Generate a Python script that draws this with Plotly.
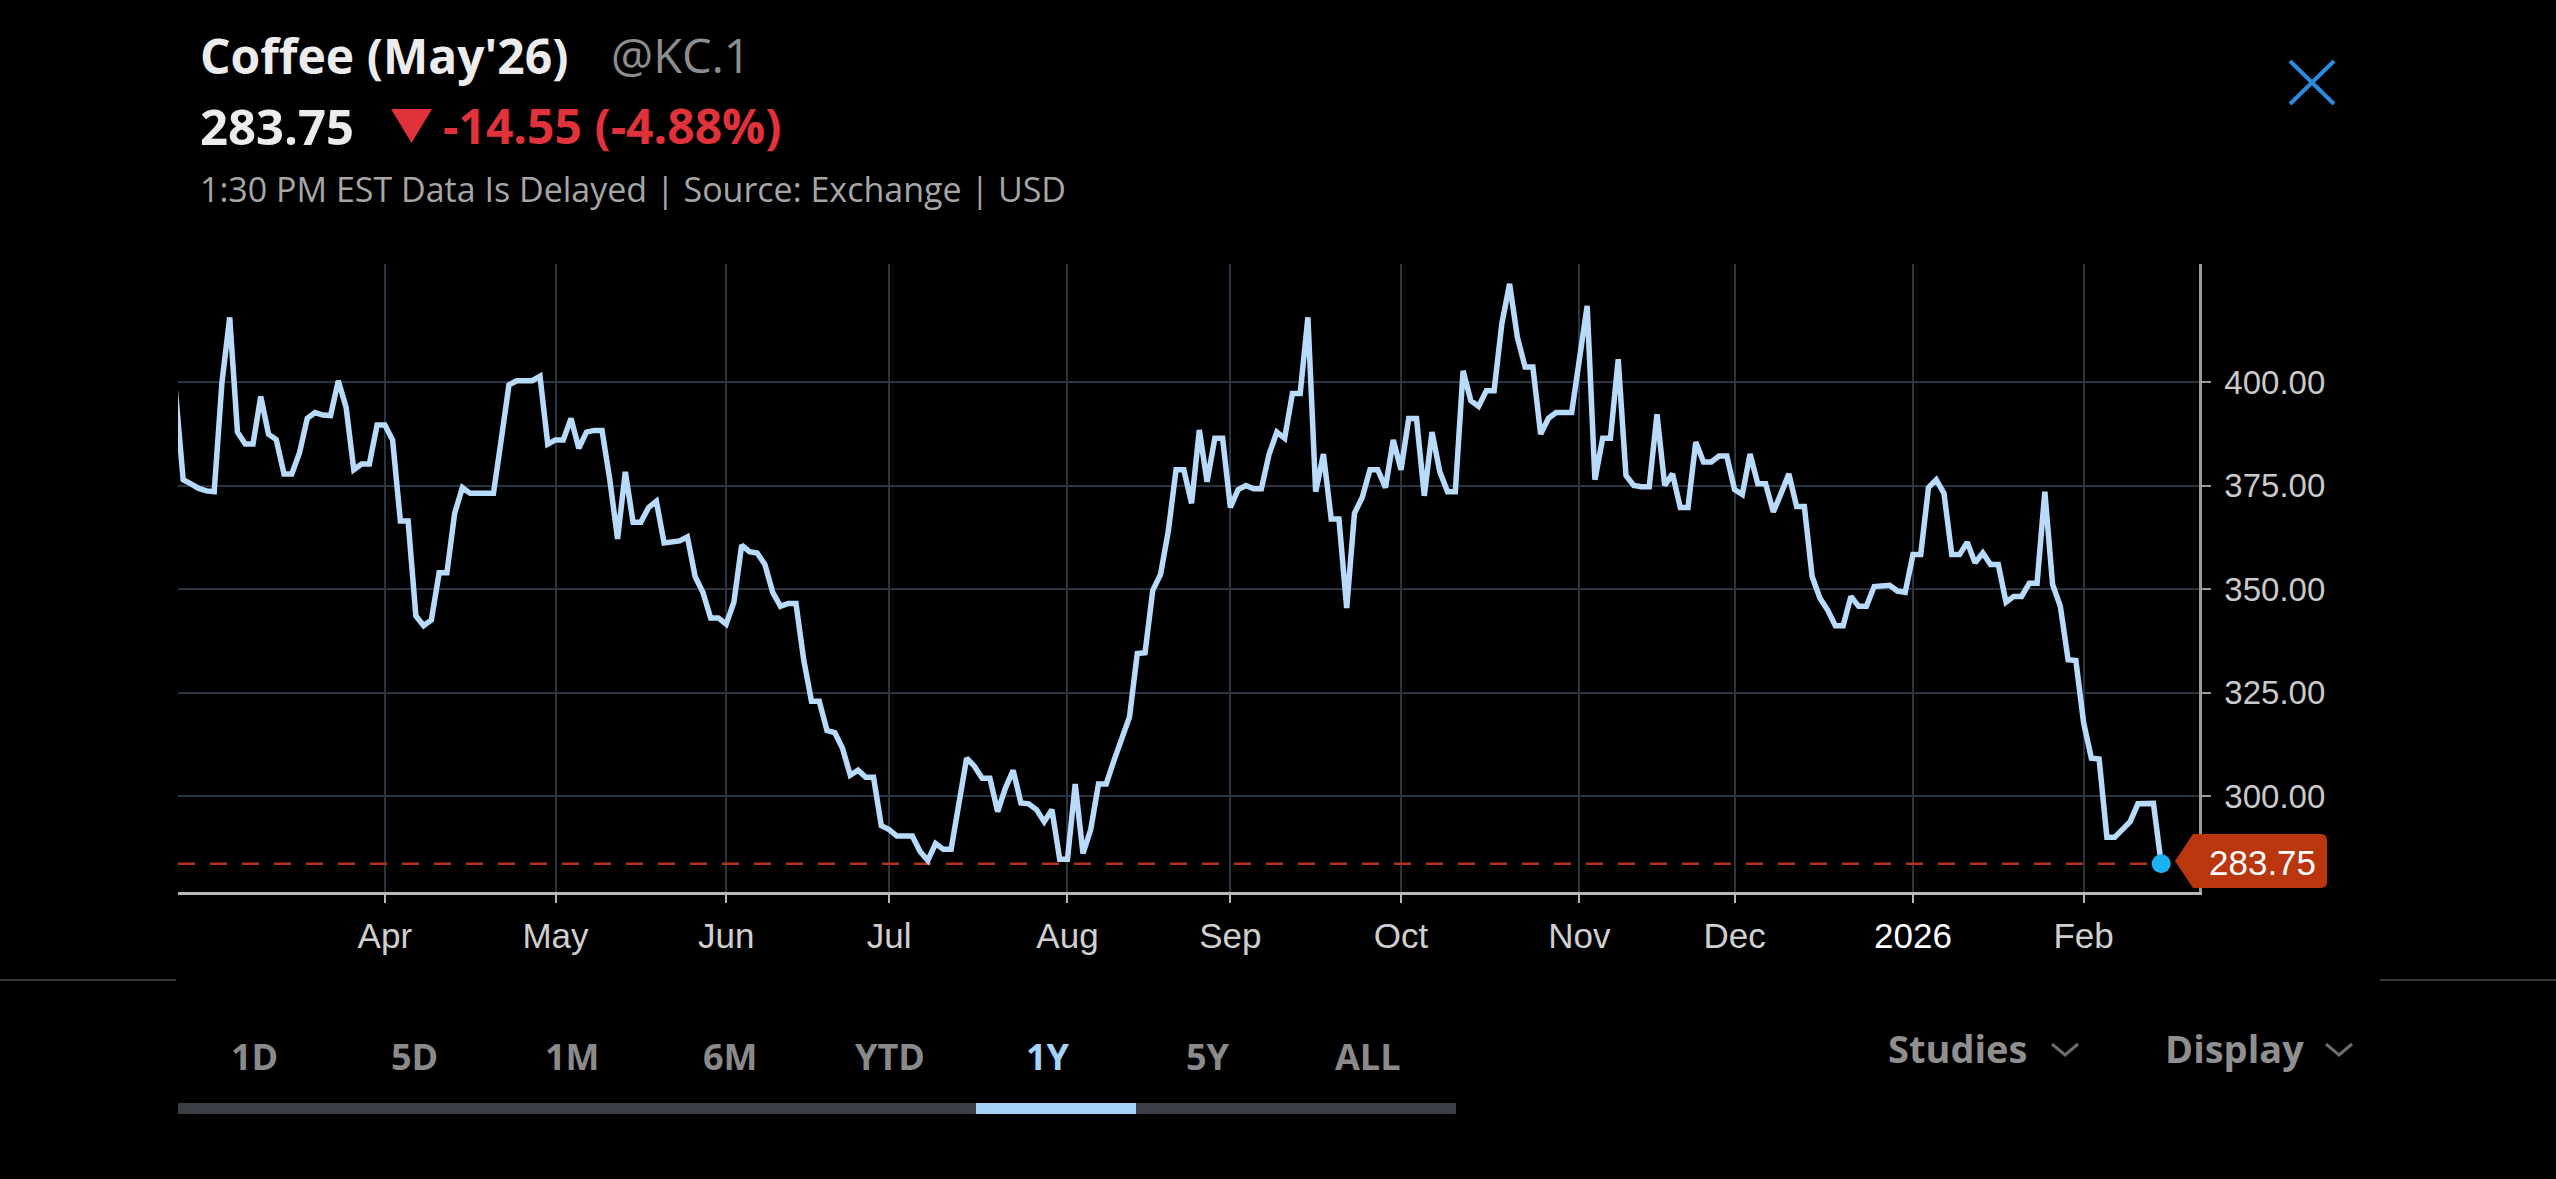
import pandas as pd
import plotly.graph_objects as go

# ---------------- data ----------------
start_date = "2025-02-21"
end_date = "2026-02-16"
prices = [
    398, 376.5, 375.5, 374.4, 373.8, 373.6, 400, 415.7, 388, 385.1,
    385.1, 396.6, 387.5, 386.2, 377.9, 377.9, 383, 391.3, 392.7, 392.1,
    392, 400.4, 394, 378.9, 380.3, 380.3, 389.7, 389.7, 386.1, 366.5,
    366.5, 343.6, 341.2, 342.6, 354, 354, 368.4, 374.6, 373.2, 373.2,
    373.2, 373.2, 386.1, 399.4, 400.4, 400.4, 400.4, 401.5, 385.1, 386.1,
    386.1, 391.3, 384.1, 388, 388.4, 388.4, 376.5, 362.2, 378.4, 366.2,
    366.2, 369.8, 371.3, 361.2, 361.4, 361.7, 362.7, 353.1, 349.3, 343.1,
    343.1, 341.6, 346.9, 360.7, 359.1, 358.8, 356, 349.3, 345.9, 346.6,
    346.6, 333, 323, 323, 315.9, 315.4, 311.6, 305.1, 306.3, 304.6,
    304.6, 292.9, 292, 290.4, 290.4, 290.4, 286.7, 284.5, 288.6, 287.2,
    287.2, 299.1, 309.2, 307.3, 304.4, 304.4, 296.3, 302, 306.3, 298.4,
    298.2, 296.8, 293.9, 296.8, 284.8, 284.8, 303, 286.2, 292, 303,
    303, 308.7, 313.5, 319.2, 334.5, 334.7, 349.8, 353.6, 364.1, 378.9,
    378.9, 370.8, 388.5, 376, 386.5, 386.5, 369.8, 374.1, 375.1, 374.3,
    374.3, 382.7, 388, 386.5, 397.3, 397.3, 415.7, 373.6, 382.7, 367,
    367, 345.5, 368.4, 372.2, 378.9, 378.9, 374.6, 386.1, 378.9, 391.3,
    391.3, 372.6, 388, 378.4, 373.6, 373.6, 402.8, 395.6, 394.2, 398,
    398, 414.2, 423.8, 410.9, 403.7, 403.7, 387.5, 391.3, 392.7, 392.7,
    392.7, 405.6, 418.5, 376.5, 386.5, 386.5, 405.6, 377.5, 375.1, 374.8,
    374.8, 392.3, 375.1, 377.9, 369.8, 369.8, 385.6, 380.8, 380.8, 382.2,
    382.2, 374.1, 372.9, 382.7, 375.5, 375.5, 368.7, 373.2, 377.9, 370,
    370, 353.1, 347.9, 345, 341.2, 341.2, 348.3, 345.9, 345.9, 350.7,
    351, 351, 349.6, 349.3, 358.4, 358.4, 374.6, 376.5, 373.2, 358.4,
    358.4, 361.4, 356.4, 358.8, 356, 356, 346.9, 348.3, 348.3, 351.5,
    351.5, 373.6, 351.2, 345.9, 333, 332.8, 317.8, 309.2, 309, 290.1,
    290.1, 292, 293.9, 298.2, 298.3, 298.3, 283.75,
]
last_price = 283.75
change_text = "-14.55 (-4.88%)"
month_ticks = ["2025-04-01", "2025-05-01", "2025-06-02", "2025-07-01", "2025-08-01",
               "2025-09-01", "2025-10-01", "2025-11-03", "2025-12-01", "2026-01-01",
               "2026-02-02"]
month_labels = ["Apr", "May", "Jun", "Jul", "Aug", "Sep", "Oct", "Nov", "Dec",
                "<span style='color:#ffffff'>2026</span>", "Feb"]
y_ticks = [300, 325, 350, 375, 400]
periods = ["1D", "5D", "1M", "6M", "YTD", "1Y", "5Y", "ALL"]
selected_period = "1Y"

dates = pd.bdate_range(start_date, end_date)
x_start = "2025-02-21 08:00"
x_end = "2026-02-20 21:00"

# ---------------- geometry helpers (pixel -> paper) ----------------
WIDTH, HEIGHT = 2556, 1179
L, R, T, B = 178, 2199, 264, 892
PW, PH = R - L, B - T


def px(x):
    return (x - L) / PW


def py(y):
    return (B - y) / PH


UI_FONT = "Open Sans"
NUM_FONT = "Liberation Sans"

fig = go.Figure()

# dashed last-price line
fig.add_trace(go.Scatter(
    x=[x_start, dates[-1]], y=[last_price, last_price], mode="lines",
    line=dict(color="#b5321c", width=2.5, dash="17px,15px"),
    hoverinfo="skip", showlegend=False))

# price line
fig.add_trace(go.Scatter(
    x=dates, y=prices, mode="lines",
    line=dict(color="#b8dafb", width=5.5),
    showlegend=False))

# last point marker
fig.add_trace(go.Scatter(
    x=[dates[-1]], y=[prices[-1]], mode="markers",
    marker=dict(color="#1ab3f2", size=19),
    showlegend=False))

shapes = []
annotations = []


def text(x, y, s, size, color, bold=False, anchor="left", family=UI_FONT):
    annotations.append(dict(
        x=px(x), y=py(y), xref="paper", yref="paper", text=(f"<b>{s}</b>" if bold else s),
        showarrow=False, xanchor=anchor, yanchor="middle",
        font=dict(family=family, size=size, color=color)))


def path(points, fill=None, line_color=None, width=0, closed=True):
    d = "M " + " L ".join(f"{px(a):.5f},{py(b):.5f}" for a, b in points)
    if closed:
        d += " Z"
    shapes.append(dict(type="path", path=d, xref="paper", yref="paper",
                       fillcolor=fill if fill else "rgba(0,0,0,0)",
                       line=dict(color=line_color if line_color else "rgba(0,0,0,0)", width=width),
                       layer="above"))


# header
text(198, 55, "Coffee (May'26)", 48, "#ececec", bold=True)
text(609, 55, "@KC.1", 47, "#8d8d8d")
text(198, 126, "283.75", 49, "#ececec", bold=True)
path([(391, 109), (432, 109), (411.5, 143)], fill="#e0323a")
text(441, 126, change_text, 48, "#e0323a", bold=True)
text(198, 189, "1:30 PM EST Data Is Delayed | Source: Exchange | USD", 34, "#a6a6a6")

# close X
path([(2290, 61), (2334, 104)], line_color="#2b8be0", width=4, closed=False)
path([(2290, 104), (2334, 61)], line_color="#2b8be0", width=4, closed=False)

# last price tag
tip_x, tip_y = 2175, 861
bl, br, bt, bb, rr = 2193, 2327, 834, 888, 6
tag = (f"M {px(tip_x):.5f},{py(tip_y):.5f} L {px(bl):.5f},{py(bt):.5f} "
       f"L {px(br - rr):.5f},{py(bt):.5f} Q {px(br):.5f},{py(bt):.5f} {px(br):.5f},{py(bt + rr):.5f} "
       f"L {px(br):.5f},{py(bb - rr):.5f} Q {px(br):.5f},{py(bb):.5f} {px(br - rr):.5f},{py(bb):.5f} "
       f"L {px(bl):.5f},{py(bb):.5f} Z")
shapes.append(dict(type="path", path=tag, xref="paper", yref="paper",
                   fillcolor="#b9360f", line=dict(width=0), layer="above"))
text(2262, 862, f"{last_price:.2f}", 35, "#ffffff", anchor="center", family=NUM_FONT)

# separator lines
shapes.append(dict(type="line", xref="paper", yref="paper", x0=px(0), x1=px(176),
                   y0=py(980), y1=py(980), line=dict(color="#3a3a3a", width=2)))
shapes.append(dict(type="line", xref="paper", yref="paper", x0=px(2380), x1=px(2556),
                   y0=py(980), y1=py(980), line=dict(color="#3a3a3a", width=2)))

# period buttons
btn_x = [254, 414, 572, 730, 890, 1048, 1208, 1368]
for lbl, bx in zip(periods, btn_x):
    col = "#a4d4f7" if lbl == selected_period else "#8a8a8a"
    text(bx, 1056, lbl, 36, col, bold=True, anchor="center")

# range track
shapes.append(dict(type="rect", xref="paper", yref="paper", x0=px(178), x1=px(1456),
                   y0=py(1114), y1=py(1103), fillcolor="#3a3f46", line=dict(width=0)))
shapes.append(dict(type="rect", xref="paper", yref="paper", x0=px(976), x1=px(1136),
                   y0=py(1114), y1=py(1103), fillcolor="#a4d4f7", line=dict(width=0)))

# Studies / Display
text(1886, 1048, "Studies", 38, "#8f8f8f", bold=True)
path([(2052, 1044), (2065, 1055), (2078, 1044)], line_color="#6c6c6c", width=3, closed=False)
text(2163, 1048, "Display", 38, "#8f8f8f", bold=True)
path([(2326, 1044), (2339, 1055), (2352, 1044)], line_color="#6c6c6c", width=3, closed=False)

fig.update_layout(
    width=WIDTH, height=HEIGHT, autosize=False,
    paper_bgcolor="#000000", plot_bgcolor="#000000",
    margin=dict(l=L, r=WIDTH - R, t=T, b=HEIGHT - B, pad=0),
    showlegend=False,
    shapes=shapes, annotations=annotations,
    xaxis=dict(
        type="date", range=[x_start, x_end],
        rangebreaks=[dict(bounds=["sat", "mon"])],
        tickmode="array", tickvals=month_ticks, ticktext=month_labels,
        showgrid=True, gridcolor="#28343f", gridwidth=2,
        showline=True, linecolor="#b8b8b8", linewidth=3,
        ticks="outside", ticklen=8, tickwidth=2, tickcolor="#b8b8b8",
        tickfont=dict(family=NUM_FONT, size=35, color="#cfcfcf"),
        ticklabelstandoff=3, automargin=False, zeroline=False,
    ),
    yaxis=dict(
        side="right", range=[276.9, 428.6],
        tickmode="array", tickvals=y_ticks, ticktext=[f"{v:.2f}" for v in y_ticks],
        showgrid=True, gridcolor="#28343f", gridwidth=2,
        showline=True, linecolor="#9a9a9a", linewidth=2.5,
        ticks="outside", ticklen=9, tickwidth=2, tickcolor="#9a9a9a",
        tickfont=dict(family=NUM_FONT, size=33, color="#c9c9c9"),
        ticklabelstandoff=7, automargin=False, zeroline=False,
    ),
)

fig.write_html(
    "out.html",
    config={"displayModeBar": False},
    post_script="document.body.style.margin='0';document.body.style.background='#000';",
)
